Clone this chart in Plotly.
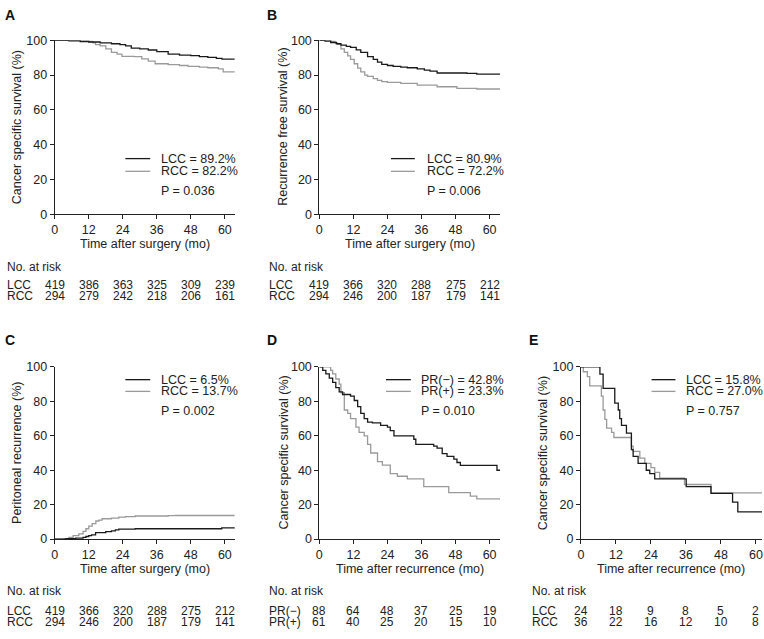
import plotly.graph_objects as go

W, H = 764, 639

# ---------------- data ----------------
# Panel A: cancer specific survival, after surgery
a_lcc_t = [0, 5, 9, 12, 16, 20, 23, 25, 27, 30, 33, 36, 40, 44, 48, 51, 54, 57, 59, 63.5]
a_lcc_s = [100, 99.6, 99.2, 99.0, 98.5, 98.0, 97.5, 96.8, 95.5, 95.0, 94.4, 93.5, 92.0, 91.5, 91.2, 90.6, 90.2, 89.6, 89.2, 89.2]
a_rcc_t = [0, 9, 12, 13.5, 14.4, 16, 18, 20, 22, 23.7, 28, 30.7, 33, 35.4, 40, 44, 47, 51, 54, 57.7, 59.4, 63.5]
a_rcc_s = [100, 99.8, 99.3, 98.5, 97.5, 96.8, 95, 93, 92, 90.8, 90.6, 89.3, 88, 86.5, 86, 85.5, 85, 84.6, 84.2, 83.6, 81.8, 81.8]

# Panel B: recurrence free survival
b_lcc_t = [0, 2, 4, 6, 7.6, 9.5, 11, 13, 14.6, 17, 19, 20.5, 22, 24, 26, 28.7, 31, 34.5, 37, 39, 41.5, 52, 55.5, 63.7]
b_lcc_s = [100, 99.5, 98.7, 98, 97.2, 96.5, 95.9, 94.5, 93, 90.6, 89, 87.4, 86.2, 85.5, 85, 84.6, 84.2, 83.6, 82.9, 82.3, 81.2, 81.0, 80.5, 80.5]
b_rcc_t = [0, 4, 5.5, 6.4, 7.6, 8.8, 10, 11, 12.3, 13.5, 14.6, 16, 17, 19, 20.5, 22, 24, 28.7, 34.5, 41.5, 48.5, 55.5, 63.7]
b_rcc_s = [100, 99.4, 98.5, 97.7, 95, 93, 91, 89, 86.5, 84, 81.8, 80, 79.3, 78, 77, 76.2, 75.8, 75.2, 74.2, 73.3, 72.4, 72, 72]

# Panel C: peritoneal recurrence (cumulative)
c_lcc_t = [0, 4, 7.4, 10, 11, 12, 13, 14.4, 18, 20, 21.4, 22.6, 28.4, 56.5, 58.9, 63.5]
c_lcc_s = [0, 0.2, 0.5, 1, 1.5, 2, 2.5, 3.8, 4.3, 4.8, 5.3, 5.8, 6.0, 6.0, 6.5, 6.8]
c_rcc_t = [0, 3.3, 5, 6.5, 8.5, 10, 11, 12, 13.2, 14.5, 15.6, 16.7, 20, 22.6, 25, 28.4, 40, 42.5, 63.5]
c_rcc_s = [0, 0.3, 1, 2, 3, 4.5, 6, 7.5, 9, 10.5, 11, 11.8, 12.2, 12.7, 13.0, 13.4, 13.6, 13.7, 13.7]

# Panel D: cancer specific survival after recurrence by PR
d_neg_t = [0, 1.2, 2.3, 3.5, 4.7, 5.8, 7, 8.2, 11, 12.3, 13.5, 14.6, 15.8, 17, 18.7, 21.6, 24, 25, 26.3, 33.3, 34, 40.3, 41.5, 43.3, 45, 47.4, 48.5, 49.7, 62.6, 63.7]
d_neg_s = [100, 98, 96, 93.5, 91, 88, 85.5, 84, 83, 80.5, 77, 73, 70, 68, 67.5, 66, 65, 63, 60, 58, 55, 54, 52.8, 49.6, 48, 46.5, 44.5, 42.8, 40, 40]
d_pos_t = [0, 4, 4.7, 5.8, 7, 7.6, 8.8, 10, 11, 12.9, 14, 15.8, 17, 18.1, 20.5, 22.2, 25, 27.5, 31, 36.8, 45.6, 53.2, 55.5, 63.7]
d_pos_s = [100, 98, 96, 93, 90, 85, 75, 73, 70, 65, 62, 60, 55, 50, 45, 43, 38, 36.5, 35, 30.5, 27, 25, 23.3, 23.3]

# Panel E: cancer specific survival after recurrence by side
e_lcc_t = [0, 6.5, 7.6, 11.6, 12.8, 13.3, 13.9, 15.6, 17.3, 17.9, 19.6, 22.4, 23.6, 25.3, 36.1, 44.6, 52, 53.8, 62.1]
e_lcc_s = [100, 95.8, 87.5, 79, 75, 70, 66, 61.5, 52, 48, 44, 40, 38, 35, 30.5, 26.5, 21.5, 15.8, 15.8]
e_rcc_t = [0, 0.8, 2.2, 3, 7, 7.6, 8.2, 8.8, 10.5, 11.3, 17.3, 17.9, 20.2, 21.9, 24, 25.3, 27, 35.5, 44.6, 62.1]
e_rcc_s = [100, 97.2, 94.4, 89, 83, 75, 69.5, 64.5, 62, 59, 54, 51, 47, 44, 41.5, 38.7, 35.4, 31.7, 26.9, 27.0]

risk_times = [0, 12, 24, 36, 48, 60]
a_risk_lcc = [419, 386, 363, 325, 309, 239]
a_risk_rcc = [294, 279, 242, 218, 206, 161]
b_risk_lcc = [419, 366, 320, 288, 275, 212]
b_risk_rcc = [294, 246, 200, 187, 179, 141]
c_risk_lcc = [419, 366, 320, 288, 275, 212]
c_risk_rcc = [294, 246, 200, 187, 179, 141]
d_risk_neg = [88, 64, 48, 37, 25, 19]
d_risk_pos = [61, 40, 25, 20, 15, 10]
e_risk_lcc = [24, 18, 9, 8, 5, 2]
e_risk_rcc = [36, 22, 16, 12, 10, 8]

x_ticks = [0, 12, 24, 36, 48, 60]
y_ticks = [0, 20, 40, 60, 80, 100]

# ---------------- helpers ----------------
def px(x):
    return x / W

def py(y):
    return 1 - y / H

BLACK = "#1a1a1a"
GRAY = "#9a9a9a"
FONT = "Liberation Sans, Arial, sans-serif"

panels = [
    dict(letter="A", xpx=(52, 233), ypx=(34, 212), xmax=63.5,
         s1=(a_lcc_t, a_lcc_s), s2=(a_rcc_t, a_rcc_s),
         leg=["LCC = 89.2%", "RCC = 82.2%", "P = 0.036"],
         ytitle="Cancer specific survival (%)", xtitle="Time after surgery (mo)",
         ytx=14, lpos=(7, 8), legpos=(123, 148, 157, 155, 168, 188),
         rlab=["LCC", "RCC"], r1=a_risk_lcc, r2=a_risk_rcc, rx=2, ry=(266, 284, 295), xty=242),
    dict(letter="B", xpx=(318, 500), ypx=(34, 212), xmax=63.8,
         s1=(b_lcc_t, b_lcc_s), s2=(b_rcc_t, b_rcc_s),
         leg=["LCC = 80.9%", "RCC = 72.2%", "P = 0.006"],
         ytitle="Recurrence free survival (%)", xtitle="Time after surgery (mo)",
         ytx=282, lpos=(270, 8), legpos=(390, 414, 424, 155, 168, 188),
         rlab=["LCC", "RCC"], r1=b_risk_lcc, r2=b_risk_rcc, rx=265, ry=(266, 284, 295), xty=242),
    dict(letter="C", xpx=(52, 233), ypx=(368, 544), xmax=63.5,
         s1=(c_lcc_t, c_lcc_s), s2=(c_rcc_t, c_rcc_s),
         leg=["LCC = 6.5%", "RCC = 13.7%", "P = 0.002"],
         ytitle="Peritoneal recurrence (%)", xtitle="Time after surgery (mo)",
         ytx=14, lpos=(7, 340), legpos=(123, 148, 157, 381, 393, 413),
         rlab=["LCC", "RCC"], r1=c_risk_lcc, r2=c_risk_rcc, rx=2, ry=(597, 618, 629), xty=575),
    dict(letter="D", xpx=(318, 500), ypx=(368, 544), xmax=63.8,
         s1=(d_neg_t, d_neg_s), s2=(d_pos_t, d_pos_s),
         leg=["PR(\u2212) = 42.8%", "PR(+) = 23.3%", "P = 0.010"],
         ytitle="Cancer specific survival (%)", xtitle="Time after recurrence (mo)",
         ytx=282, lpos=(270, 340), legpos=(385, 410, 418, 381, 393, 413),
         rlab=["PR(\u2212)", "PR(+)"], r1=d_risk_neg, r2=d_risk_pos, rx=265, ry=(597, 618, 629), xty=575),
    dict(letter="E", xpx=(581, 763), ypx=(368, 544), xmax=62.1,
         s1=(e_lcc_t, e_lcc_s), s2=(e_rcc_t, e_rcc_s),
         leg=["LCC = 15.8%", "RCC = 27.0%", "P = 0.757"],
         ytitle="Cancer specific survival (%)", xtitle="Time after recurrence (mo)",
         ytx=543, lpos=(533, 340), legpos=(652, 676, 685, 381, 393, 413),
         rlab=["LCC", "RCC"], r1=e_risk_lcc, r2=e_risk_rcc, rx=530, ry=(597, 618, 629), xty=575),
]

fig = go.Figure()
annotations = []
shapes = []
layout = dict(
    width=W, height=H, margin=dict(l=0, r=0, t=0, b=0),
    paper_bgcolor="white", plot_bgcolor="white", showlegend=False,
    font=dict(family=FONT, size=12, color="#222"),
)

for i, p in enumerate(panels, start=1):
    sfx = "" if i == 1 else str(i)
    xa, ya = "x" + sfx, "y" + sfx
    x0, x1 = p["xpx"]
    yt, yb = p["ypx"]
    layout["xaxis" + sfx] = dict(
        domain=[px(x0), px(x1)], anchor=ya, range=[0, p["xmax"]],
        tickvals=x_ticks, ticks="outside", ticklen=4, tickwidth=1, tickcolor="#222",
        showline=True, linecolor="#222", linewidth=1, showgrid=False, zeroline=False,
        ticklabeloverflow="allow",
        tickfont=dict(size=12.5, family=FONT, color="#222"),
    )
    layout["yaxis" + sfx] = dict(
        domain=[py(yb), py(yt)], anchor=xa, range=[0, 100],
        tickvals=y_ticks, ticks="outside", ticklen=4, tickwidth=1, tickcolor="#222",
        showline=True, linecolor="#222", linewidth=1, showgrid=False, zeroline=False,
        ticklabeloverflow="allow",
        tickfont=dict(size=12.5, family=FONT, color="#222"),
    )
    fig.add_trace(go.Scatter(x=p["s2"][0], y=p["s2"][1], mode="lines", line_shape="hv",
                             line=dict(color=GRAY, width=1.3), xaxis=xa, yaxis=ya,
                             cliponaxis=False, hoverinfo="skip"))
    fig.add_trace(go.Scatter(x=p["s1"][0], y=p["s1"][1], mode="lines", line_shape="hv",
                             line=dict(color=BLACK, width=1.3), xaxis=xa, yaxis=ya,
                             cliponaxis=False, hoverinfo="skip"))

    annotations.append(dict(text="<b>%s</b>" % p["letter"], x=px(p["lpos"][0]), y=py(p["lpos"][1]),
                            xref="paper", yref="paper", showarrow=False, xanchor="center", yanchor="middle",
                            font=dict(size=14, color="#111", family=FONT)))
    annotations.append(dict(text=p["ytitle"], x=px(p["ytx"]), y=py((yt + yb) / 2), textangle=-90,
                            xref="paper", yref="paper", showarrow=False, xanchor="center", yanchor="middle",
                            font=dict(size=12.5, color="#222", family=FONT)))
    annotations.append(dict(text=p["xtitle"], x=px((x0 + x1) / 2), y=py(p["xty"]),
                            xref="paper", yref="paper", showarrow=False, xanchor="center", yanchor="middle",
                            font=dict(size=12.5, color="#222", family=FONT)))
    lx0, lx1, tx, ly1, ly2, ly3 = p["legpos"]
    shapes.append(dict(type="line", xref="paper", yref="paper", x0=px(lx0), x1=px(lx1),
                       y0=py(ly1), y1=py(ly1), line=dict(color=BLACK, width=1.3)))
    shapes.append(dict(type="line", xref="paper", yref="paper", x0=px(lx0), x1=px(lx1),
                       y0=py(ly2), y1=py(ly2), line=dict(color=GRAY, width=1.3)))
    for txt, yy in zip(p["leg"], [ly1, ly2, ly3]):
        annotations.append(dict(text=txt, x=px(tx), y=py(yy), xref="paper", yref="paper",
                                showarrow=False, xanchor="left", yanchor="middle",
                                font=dict(size=12.5, color="#222", family=FONT)))
    r0, r1y, r2y = p["ry"]
    annotations.append(dict(text="No. at risk", x=px(p["rx"]), y=py(r0), xref="paper", yref="paper",
                            showarrow=False, xanchor="left", yanchor="middle",
                            font=dict(size=12, color="#222", family=FONT)))
    for lab, vals, yy in [(p["rlab"][0], p["r1"], r1y), (p["rlab"][1], p["r2"], r2y)]:
        annotations.append(dict(text=lab, x=px(p["rx"]), y=py(yy), xref="paper", yref="paper",
                                showarrow=False, xanchor="left", yanchor="middle",
                                font=dict(size=12, color="#222", family=FONT)))
        for t, v in zip(risk_times, vals):
            annotations.append(dict(text=str(v), x=t, y=py(yy), xref=xa, yref="paper",
                                    showarrow=False, xanchor="center", yanchor="middle",
                                    font=dict(size=12, color="#222", family=FONT)))

layout["annotations"] = annotations
layout["shapes"] = shapes
fig.update_layout(**layout)
fig.write_html("out.html", config={"displayModeBar": False, "staticPlot": True},
               post_script="document.body.style.margin='0';document.body.style.padding='0';document.body.style.overflow='hidden';")
